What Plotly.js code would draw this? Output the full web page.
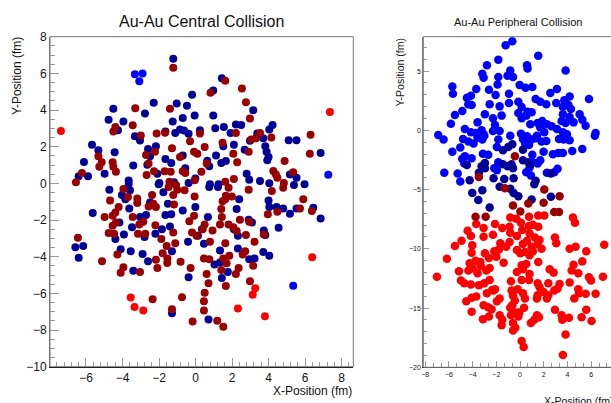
<!DOCTYPE html>
<html>
<head>
<meta charset="utf-8">
<script src="https://cdn.plot.ly/plotly-3.0.1.min.js"></script>
<style>
html,body{margin:0;padding:0;overflow:hidden;background:#fff;width:611px;height:403px;}
#chart{width:640px;height:403px;}
</style>
</head>
<body>
<div id="chart"></div>
<script>
// ---------- Central collision (left panel) ----------
const centralPartA_x = [-1.22,-4.50,-4.76,-3.95,-2.77,-2.29,-1.03,-0.47,-0.19,-0.05,-0.70,-1.25,-0.85,-0.63,-1.11,-1.65,-4.25,-3.32,-3.04,-0.38,-5.67,-5.32,-4.43,-6.11,-6.40,-5.89,-4.98,-3.41,-3.66,-2.60,-2.17,-2.49,-2.64,-1.65,-1.33,-0.70,-0.56,-2.09,-1.18,-0.01,-1.98,
 1.44,0.97,3.16,0.97,1.08,1.55,2.21,2.50,1.92,4.22,4.04,3.38,2.98,3.71,3.82,3.89,4.00,3.93,2.69,2.10,1.52,1.12,1.41,1.66,5.10,5.53,6.85,0.24,0.64,0.75,2.80,2.94,3.53,4.04,5.17,5.53,5.97,0.79,1.26,
 -4.72,-3.66,-3.59,-4.03,-3.84,-5.63,-3.63,-3.04,-2.71,-3.48,-4.17,-3.92,-4.39,-6.58,-6.15,-6.40,-4.10,-3.55,-2.90,-2.60,-3.41,-2.79,-2.20,-2.49,-2.02,-1.76,-1.51,-1.65,-1.33,-1.84,-1.40,-1.29,-0.70,-0.38,-0.01,-0.41,-0.38,-1.29,0.13,
 0.75,1.23,5.39,4.00,4.04,4.44,4.80,5.17,5.53,6.45,6.85,2.39,2.25,0.68,0.35,0.46,2.10,2.32,2.91,3.09,3.74,3.82,4.55,1.34,2.32,1.04,1.34,2.94,3.23,3.71,4.04,1.77,1.44,0.71];
const centralPartA_y = [6.80,4.07,3.47,3.37,3.81,4.40,4.36,4.23,4.83,3.70,3.57,3.37,2.94,2.88,2.75,2.83,2.90,2.57,2.34,2.70,2.10,1.81,1.70,1.17,0.39,0.39,0.53,0.97,0.15,1.88,2.03,1.48,1.02,1.33,1.11,1.52,0.82,0.53,0.06,0.26,0.02,
 5.74,5.07,3.99,3.70,3.01,3.08,3.21,3.19,2.75,3.19,2.94,2.72,2.32,2.46,2.03,1.73,1.44,1.26,1.84,2.10,2.03,1.52,1.11,1.22,2.35,2.35,1.66,2.90,1.24,0.93,0.53,0.20,0.13,0.00,0.49,0.31,-0.05,-0.05,-0.05,
 -0.35,-0.02,-0.38,-0.64,-0.86,-1.62,-1.37,-1.84,-1.73,-2.39,-2.13,-2.79,-3.04,-3.48,-3.41,-4.06,-3.59,-3.70,-3.85,-4.25,-4.76,-2.93,-2.75,-1.04,-0.05,-0.49,-1.11,-1.73,-1.69,-2.50,-2.35,-3.70,-1.48,0.02,-1.29,-3.19,-5.12,-7.09,-2.86,
 -0.20,-0.20,-0.09,-0.93,-1.29,-1.29,-1.37,-1.66,-1.37,-1.33,-1.91,-0.86,-1.40,-1.84,-2.50,-3.30,-2.50,-2.86,-1.99,-2.13,-2.57,-2.82,-2.42,-3.66,-3.55,-4.43,-4.32,-4.14,-4.10,-3.74,-3.95,-4.83,-5.16,-7.42];

const centralPartB_x = [-1.22,-3.30,-1.40,-3.44,-4.39,-4.50,-3.00,-2.13,-1.67,-0.30,-1.29,-2.22,-2.71,-0.08,0.10,-5.32,-5.14,-5.27,-4.54,-4.50,-4.36,-2.57,-0.85,-6.22,-6.55,-2.68,-2.27,-1.69,-1.36,-0.70,-0.56,-1.43,-0.05,0.32,
 1.63,0.82,2.54,2.76,2.98,0.24,2.21,3.05,3.31,3.53,4.15,6.30,6.26,0.50,1.48,2.07,2.91,2.28,0.61,4.88,4.26,4.40,4.48,5.35,2.10,1.63,4.84,
 -4.68,-3.95,-3.70,-4.21,-4.39,-4.54,-4.98,-4.54,-4.36,-4.76,-4.46,-3.44,-3.19,-3.19,-2.57,-2.31,-2.17,-2.38,-2.86,-3.08,-3.15,-2.75,-2.20,-1.87,-1.58,-1.80,-2.17,-2.09,-1.54,-1.55,-1.22,-1.11,-0.82,-0.27,-1.47,-1.22,-1.00,-0.60,-1.07,-1.18,-0.05,-0.08,-0.34,-0.19,0.06,-4.28,-5.12,-3.95,-4.10,-3.04,-6.44,-2.35,-0.74,-1.29,-0.16,
 1.81,1.66,1.99,2.91,4.18,4.80,5.90,5.72,6.37,4.48,3.96,1.48,1.63,1.41,1.44,1.34,1.81,2.07,2.25,2.43,2.94,2.76,3.74,0.50,0.39,0.93,0.79,1.63,3.23,0.46,0.75,1.52,1.70,1.85,1.41,2.21,2.36,2.58,2.72,3.16,0.61,0.71,1.66,2.98,0.50,0.46,0.46,1.19,1.52];
const centralPartB_y = [6.31,4.10,4.07,3.17,3.08,2.83,2.61,2.72,2.76,2.30,1.92,1.73,1.55,1.73,1.62,1.48,1.15,0.90,1.15,0.90,0.64,1.08,1.44,0.57,0.06,0.46,0.66,0.66,0.64,0.66,0.57,0.09,0.17,0.64,
 5.60,4.94,5.18,4.43,3.54,2.72,2.75,2.39,2.46,2.75,2.50,2.65,1.62,1.99,2.21,1.62,1.73,1.15,1.08,1.22,0.68,0.49,0.31,0.60,0.24,0.09,0.02,
 -0.93,-0.31,-0.75,-1.29,-1.59,-1.77,-1.84,-2.31,-2.13,-2.71,-2.75,-1.84,-0.82,-1.07,-1.26,-1.11,-1.29,-0.64,-2.10,-2.24,-2.75,-2.75,-2.28,-3.04,-3.41,-3.81,-4.17,-4.61,-4.10,-4.35,-2.68,-3.26,-4.28,-4.61,-0.20,-0.64,-0.35,-0.38,-0.09,-1.15,-0.71,-1.77,-2.06,-2.68,-2.86,-3.88,-4.25,-4.57,-4.87,-4.83,-2.97,-6.32,-6.21,-6.87,-7.53,
 -0.24,-0.67,-0.71,-0.35,-0.42,-0.24,-0.86,-1.37,-1.51,-1.55,-1.69,-0.97,-0.86,-1.40,-1.84,-2.24,-2.24,-2.39,-2.60,-1.99,-2.10,-2.82,-2.79,-2.24,-2.50,-2.57,-3.19,-3.26,-3.19,-4.10,-4.14,-4.10,-4.36,-3.95,-4.72,-4.94,-4.61,-3.88,-3.70,-4.50,-4.94,-5.45,-5.60,-5.34,-5.96,-6.43,-6.94,-7.49,-7.82];

const centralSpecA_x = [-3.32,-2.90,-3.08,7.27,5.35];
const centralSpecA_y = [5.95,5.99,5.57,0.47,-5.58];
const centralSpecB_x = [-7.37,7.36,6.39,-3.55,-3.34,-2.86,2.32,3.80,3.13,3.27];
const centralSpecB_y = [2.86,3.89,-4.03,-6.23,-6.74,-6.94,-6.83,-7.25,-6.07,-5.72];

// ---------- Peripheral collision (right panel) ----------
const periphSpecA_x = [-0.65,-1.21,1.54,-1.83,0.59,0.64,3.85,-2.79,-3.18,-3.07,-0.82,-1.05,-0.59,-1.83,-1.89,-0.03,0.47,1.04,-5.71,-5.66,-3.69,-2.62,-2.06,-0.93,2.56,3.12,4.19,3.74,5.82,-4.48,-4.14,-4.36,-4.08,-2.56,-1.72,-0.93,-0.14,0.14,0.64,0.98,1.32,1.71,2.22,3.06,3.62,4.08,4.30,-4.87,-5.49,-2.96,-2.28,-1.55,-3.58,-5.83,-2.11,-2.28,-1.72,-0.14,0.14,0.53,0.87,5.03,5.26,5.54,3.62,4.19,3.51,3.85,4.52,1.49,1.88,2.27,2.67,1.71,2.05,1.43,3.12,3.62,3.96,3.29,3.68,4.19,6.38,6.32,-4.65,-4.14,-3.75,-3.24,-3.07,-6.90,-6.45,-4.81,-4.36,-3.92,-3.58,-3.18,-3.01,-0.82,-1.83,-1.95,0.08,0.25,0.59,0.98,0.76,0.42,1.32,1.82,2.22,-5.04,-5.71,-3.13,-2.68,-4.65,-4.08,-4.70,-4.87,-1.83,1.04,1.09,1.71,1.49,1.99,2.78,3.23,3.62,4.41,5.26,3.17,2.89,2.27,0.81,0.92,0.53,-6.39,-5.26,-5.04,-1.95,-2.17];
const periphSpecA_y = [7.52,7.18,6.29,5.95,5.50,5.22,5.05,5.50,4.77,4.43,5.05,4.60,4.49,4.49,3.87,3.82,3.59,3.65,3.70,3.09,3.48,3.42,2.98,3.09,3.14,3.48,2.86,2.53,2.64,2.75,2.92,2.19,2.13,2.19,2.02,2.30,2.41,1.97,1.57,1.52,2.64,2.41,2.19,2.30,1.97,2.13,1.80,1.63,1.29,1.35,1.01,1.24,0.67,0.56,0.45,-0.05,-0.05,1.46,1.01,1.24,0.51,1.35,0.90,0.39,1.35,1.12,0.79,0.62,0.67,0.62,0.79,0.51,0.34,0.23,-0.17,-0.45,0.11,-0.17,-0.34,-0.73,-0.78,-0.84,-0.22,-0.45,0.11,-0.17,-0.22,0.00,-0.34,-0.39,-0.78,-0.73,-0.95,-1.12,-0.62,-0.78,-0.45,-0.45,-0.78,-1.40,-0.28,-0.73,-0.50,-0.78,-1.23,-1.07,-0.67,-0.95,-0.90,-1.46,-1.80,-1.97,-2.07,-2.19,-2.36,-2.81,-2.41,-2.69,-2.07,-2.69,-2.53,-2.81,-1.80,-2.02,-1.91,-1.91,-1.74,-1.57,-3.25,-3.53,-3.59,-3.14,-3.81,-3.53,-3.59,-3.65,-4.32,-3.36,-3.20];

const periphSpecB_x = [-0.82,-0.31,0.76,1.54,2.05,4.47,4.64,-3.69,-3.07,-2.11,-1.49,-0.88,0.08,0.76,1.09,1.54,-4.42,-4.14,-3.07,-2.28,-0.82,-0.26,0.19,0.81,1.26,1.65,2.95,3.06,-4.93,-5.49,-4.03,-4.08,-1.66,-1.78,-1.16,-0.88,0.25,0.59,0.98,1.49,1.82,4.19,4.69,5.59,7.11,-6.17,-7.01,-5.15,-4.25,-3.75,-3.35,-2.96,-2.62,-2.17,-2.00,-1.38,-0.26,0.03,0.42,0.81,1.09,1.54,-4.36,-3.97,-3.58,-3.30,-2.84,-2.56,-0.26,0.25,0.81,0.76,0.53,0.14,2.50,2.84,4.36,4.92,5.26,4.52,5.82,5.99,7.00,-4.98,-4.70,-4.14,-3.47,-3.01,-2.56,-2.23,-0.76,-0.71,-0.20,0.14,1.49,1.65,1.99,2.39,3.34,3.17,2.89,4.19,4.92,5.54,6.38,-4.53,-4.08,-3.69,-2.79,-2.34,-2.11,-3.07,-2.68,-2.40,-4.08,-3.13,-2.62,-1.72,-1.95,-0.59,-0.43,-0.65,-0.82,0.25,0.42,1.43,1.49,2.27,2.39,-1.72,-1.49,-1.55,-0.76,-0.37,-0.14,-0.59,-0.59,0.14,0.31,0.92,1.21,1.43,1.60,2.95,3.51,3.57,4.13,3.85,3.62,5.20,5.59,6.04,4.58,4.98,0.34,-0.05,-0.39];
const periphSpecB_y = [-7.35,-7.46,-7.30,-7.18,-7.18,-7.35,-7.80,-7.91,-8.25,-7.91,-8.25,-8.14,-7.80,-8.08,-7.97,-8.14,-8.47,-8.92,-8.98,-8.81,-8.64,-8.92,-8.42,-8.70,-9.04,-9.26,-9.04,-9.54,-9.32,-9.76,-9.71,-10.33,-9.54,-10.05,-9.82,-9.43,-9.60,-9.32,-9.82,-9.60,-9.99,-9.99,-9.82,-10.21,-9.65,-10.83,-12.35,-11.90,-11.22,-11.00,-11.11,-10.38,-10.78,-10.21,-10.66,-11.17,-10.10,-10.38,-10.27,-10.55,-10.21,-11.11,-11.84,-11.67,-12.07,-11.45,-11.84,-11.62,-11.95,-11.73,-12.12,-12.63,-11.28,-11.39,-11.73,-12.01,-11.84,-12.07,-11.06,-11.34,-12.40,-12.68,-12.35,-12.68,-12.91,-13.02,-13.08,-12.91,-12.63,-13.52,-12.74,-13.52,-13.41,-12.63,-12.91,-13.24,-13.64,-12.91,-12.96,-13.36,-13.52,-12.85,-13.41,-13.80,-13.80,-14.42,-14.14,-14.03,-13.75,-13.47,-13.41,-14.76,-14.93,-15.10,-15.32,-15.94,-15.71,-14.20,-14.42,-13.97,-14.37,-14.76,-14.98,-13.75,-14.20,-14.20,-13.92,-14.20,-13.92,-15.60,-15.99,-16.44,-15.60,-15.38,-15.71,-16.27,-16.89,-17.79,-18.29,-16.27,-15.99,-15.60,-15.77,-15.15,-15.60,-15.99,-15.82,-17.23,-18.97,-15.77,-15.15,-16.10,-14.20,-13.75,-14.98,-15.37,-16.66];

const periphPartA_x = [-1.44,-0.99,-0.65,0.25,-2.96,-2.96,-3.24,-4.48,-1.44,-1.05,-0.71,-0.59,0.25,0.70,0.87,-1.33,-0.54,-2.23,-4.25,1.32,2.61,-3.47,-3.18,-4.03,-3.52,-2.56,-1.72,-0.82,-0.54,-0.14,0.98,2.61,1.21];
const periphPartA_y = [-1.68,-1.40,-1.18,-1.63,-2.75,-3.20,-3.03,-2.92,-2.86,-3.03,-2.86,-3.20,-2.53,-2.69,-2.86,-4.10,-4.04,-4.04,-4.21,-4.26,-3.65,-3.59,-5.05,-5.28,-5.89,-6.51,-4.77,-4.94,-5.28,-5.56,-5.84,-5.61,-4.55];
const periphPartB_x = [-0.43,-3.47,-1.27,2.05,3.34,1.99,-0.59,0.03,0.70,-3.75,-2.90,2.89,3.29];
const periphPartB_y = [-2.19,-3.93,-4.88,-4.99,-5.56,-6.12,-6.34,-6.85,-6.17,-7.30,-7.30,-6.90,-6.90];

// tick labels
const leftXTicks = [-6,-4,-2,0,2,4,6,8];
const leftYTicks = [-10,-8,-6,-4,-2,0,2,4,6,8];
const rightXTicks = [-8,-6,-4,-2,0,2,4,6];
const rightYTicks = [-20,-15,-10,-5,0,5];

const darkBlue = '#000099', darkRed = '#990000', brightBlue = '#0000ff', brightRed = '#ff0000';

function pts(x, y, color, size, xa, ya) {
  return {type:'scatter', mode:'markers', x:x, y:y, xaxis:xa, yaxis:ya,
    marker:{color:color, size:size, line:{width:0}}, hoverinfo:'skip', showlegend:false};
}

const traces = [
  pts(centralPartA_x, centralPartA_y, darkBlue, 8, 'x', 'y'),
  pts(centralPartB_x, centralPartB_y, darkRed, 8, 'x', 'y'),
  pts(centralSpecA_x, centralSpecA_y, brightBlue, 8, 'x', 'y'),
  pts(centralSpecB_x, centralSpecB_y, brightRed, 8, 'x', 'y'),
  pts(periphSpecA_x, periphSpecA_y, brightBlue, 8.5, 'x2', 'y2'),
  pts(periphSpecB_x, periphSpecB_y, brightRed, 8.5, 'x2', 'y2'),
  pts(periphPartA_x, periphPartA_y, darkBlue, 8.5, 'x2', 'y2'),
  pts(periphPartB_x, periphPartB_y, darkRed, 8.5, 'x2', 'y2')
];

const W = 640, H = 403;
const font = 'Liberation Sans, Arial, Helvetica, sans-serif';
const yDom = [(H-366.7)/H, (H-36.7)/H];

function ax(opts) {
  return Object.assign({
    showgrid:false, zeroline:false, showline:true, linewidth:1,
    ticks:'inside', tickcolor:'#999', tickwidth:1, fixedrange:true, tickmode:'array'
  }, opts);
}

const layout = {
  width: W, height: H,
  margin:{l:0, r:0, t:0, b:0},
  paper_bgcolor:'#fff', plot_bgcolor:'#fff',
  showlegend:false,
  xaxis: ax({domain:[50/W, 353.3/W], range:[-7.97, 8.64], anchor:'y',
    tickvals:leftXTicks, ticklen:9, linecolor:'#111', tickfont:{family:font, size:12, color:'#111'},
    minor:{tickmode:'linear', tick0:0, dtick:0.4, ticklen:5, ticks:'inside', tickcolor:'#999'}}),
  yaxis: ax({domain:yDom, range:[-10, 8], anchor:'x',
    tickvals:leftYTicks, ticklen:9, linecolor:'#777', tickfont:{family:font, size:12, color:'#111'},
    minor:{tickmode:'linear', tick0:0, dtick:0.5, ticklen:5, ticks:'inside', tickcolor:'#999'}}),
  xaxis2: ax({domain:[423.3/W, 630/W], range:[(423.3-520)/11.85, (630-520)/11.85], anchor:'y2',
    tickvals:rightXTicks, ticklen:6, linecolor:'#111', tickfont:{family:font, size:7, color:'#111'},
    minor:{tickmode:'linear', tick0:0, dtick:2/3, ticklen:4, ticks:'inside', tickcolor:'#999'}}),
  yaxis2: ax({domain:[(H-367.3)/H, (H-36.7)/H], range:[-20, 7.9], anchor:'x2',
    tickvals:rightYTicks, ticklen:6, linecolor:'#777', tickfont:{family:font, size:7, color:'#111'},
    minor:{tickmode:'linear', tick0:0, dtick:1, ticklen:4, ticks:'inside', tickcolor:'#999'}}),
  shapes:[
    {type:'rect', xref:'x domain', yref:'y domain', x0:0, x1:1, y0:0, y1:1, line:{color:'#777', width:1}, layer:'above'},
    {type:'rect', xref:'x2 domain', yref:'y2 domain', x0:0, x1:1, y0:0, y1:1, line:{color:'#777', width:1}, layer:'above'}
  ],
  annotations:[
    {text:'Au-Au Central Collision', xref:'paper', yref:'paper', x:201.7/W, y:(H-22)/H, xanchor:'center', yanchor:'middle', showarrow:false, font:{family:font, size:16, color:'#111'}},
    {text:'Y-Position (fm)', xref:'paper', yref:'paper', x:17/W, y:(H-35)/H, xanchor:'center', yanchor:'top', textangle:-90, showarrow:false, font:{family:font, size:12, color:'#111'}},
    {text:'X-Position (fm)', xref:'paper', yref:'paper', x:353.5/W, y:(H-391)/H, xanchor:'right', yanchor:'middle', showarrow:false, font:{family:font, size:12, color:'#111'}},
    {text:'Au-Au Peripheral Collision', xref:'paper', yref:'paper', x:517.5/W, y:(H-22)/H, xanchor:'center', yanchor:'middle', showarrow:false, font:{family:font, size:11, color:'#111'}},
    {text:'Y-Position (fm)', xref:'paper', yref:'paper', x:399/W, y:(H-36.5)/H, xanchor:'center', yanchor:'top', textangle:-90, showarrow:false, font:{family:font, size:10.5, color:'#111'}},
    {text:'X-Position (fm)', xref:'paper', yref:'paper', x:541.7/W, y:(H-400.5)/H, xanchor:'left', yanchor:'middle', showarrow:false, font:{family:font, size:10.5, color:'#111'}}
  ]
};

Plotly.newPlot('chart', traces, layout, {displayModeBar:false, staticPlot:true});
</script>
</body>
</html>
